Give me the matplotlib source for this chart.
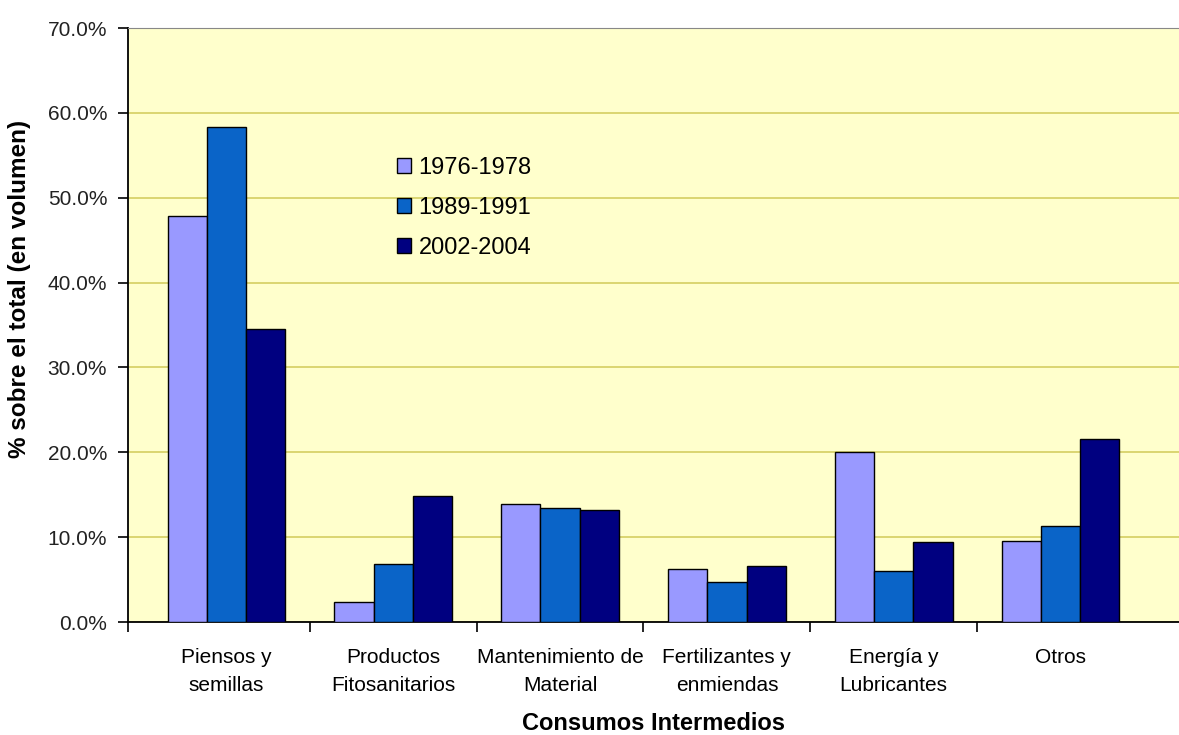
import numpy as np
import matplotlib
matplotlib.use("Agg")
import matplotlib.pyplot as plt
from matplotlib.ticker import FuncFormatter

plt.rcParams['font.family'] = ['Liberation Sans', 'DejaVu Sans']

# ==============================
# Data
# ==============================
categorias = ["Piensos y\nsemillas", "Productos\nFitosanitarios", "Mantenimiento de\nMaterial",
              "Fertilizantes y\nenmiendas", "Energía y\nLubricantes", "Otros"]
periodos = ["1976-1978", "1989-1991", "2002-2004"]
p1976 = [47.9, 2.3, 13.9, 6.3, 20.0, 9.5]
p1989 = [58.3, 6.8, 13.4, 4.7, 6.0, 11.3]
p2002 = [34.5, 14.8, 13.2, 6.6, 9.4, 21.6]

colores = ["#9999ff", "#0a64c8", "#000080"]

# ==============================
# Chart
# ==============================
fig = plt.figure(figsize=(11.79, 7.35), dpi=100)
ax = fig.add_axes([128 / 1179, 113 / 735, 1051 / 1179, 594 / 735])
ax.set_facecolor("#ffffcc")

x = np.arange(len(categorias))
w = 0.235
for i, (serie, color, nombre) in enumerate(zip([p1976, p1989, p2002], colores, periodos)):
    ax.bar(x + (i - 1) * w, serie, width=w, color=color, edgecolor="black",
           linewidth=1.0, label=nombre, zorder=3)

ax.set_xlim(-0.59, 5.71)
ax.set_ylim(0, 70)
ax.set_yticks(np.arange(0, 71, 10))
ax.yaxis.set_major_formatter(FuncFormatter(lambda v, p: f"{v:.1f}%"))
ax.grid(axis="y", color="#d8d26a", linewidth=1.3, zorder=1)

ax.set_xticks(x)
ax.set_xticklabels(categorias, fontsize=15, linespacing=1.6)
ax.set_xticks([-0.59, 0.5, 1.5, 2.5, 3.5, 4.5], minor=True)
ax.tick_params(axis="x", which="major", length=0, pad=19)
ax.tick_params(axis="x", which="minor", length=7, width=1.2, direction="out")
ax.tick_params(axis="y", labelsize=15, length=7, width=1.2, pad=8, labelcolor="#222222")

for s in ["left", "bottom"]:
    ax.spines[s].set_color("black")
    ax.spines[s].set_linewidth(1.3)
ax.spines["top"].set_color("#888888")
ax.spines["right"].set_visible(False)

ax.set_xlabel("Consumos Intermedios", fontsize=17, fontweight="bold")
ax.xaxis.set_label_coords(0.5, -0.152)
ax.set_ylabel("% sobre el total (en volumen)", fontsize=17.5, fontweight="bold")
ax.yaxis.set_label_coords(-0.092, 0.56)

ax.legend(loc="upper left", bbox_to_anchor=(376 / 1179, 1 - 136 / 735),
          bbox_transform=fig.transFigure, frameon=False, fontsize=17,
          handlelength=0.6, handleheight=0.6, handletextpad=0.3, labelspacing=0.75)

fig.savefig("out.png", dpi=100)
